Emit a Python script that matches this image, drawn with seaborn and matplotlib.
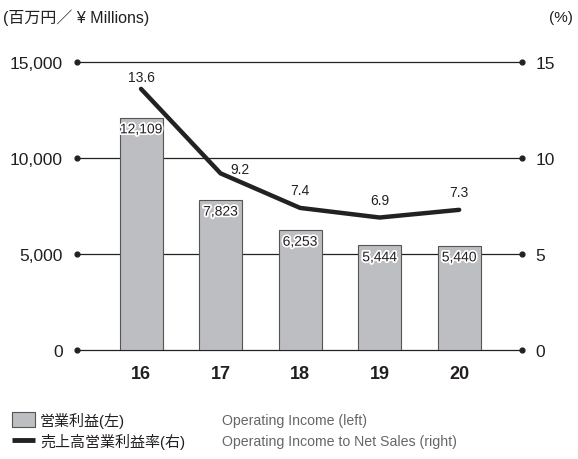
import matplotlib
matplotlib.use("Agg")
import matplotlib.pyplot as plt
import matplotlib.patheffects as pe
from matplotlib.patches import Rectangle
from matplotlib.lines import Line2D
import seaborn as sns
import pandas as pd

years = ["16", "17", "18", "19", "20"]
operating_income = [12109, 7823, 6253, 5444, 5440]
income_labels = ["12,109", "7,823", "6,253", "5,444", "5,440"]
margin = [13.6, 9.2, 7.4, 6.9, 7.3]
margin_labels = ["13.6", "9.2", "7.4", "6.9", "7.3"]
left_ticks = [0, 5000, 10000, 15000]
left_ticklabels = ["0", "5,000", "10,000", "15,000"]
right_ticks = [0, 5, 10, 15]
right_ticklabels = ["0", "5", "10", "15"]

sns.set_theme(style="white")
plt.rcParams["font.family"] = ["Liberation Sans", "Noto Sans CJK JP", "DejaVu Sans"]

TXT = "#231f20"
BAR = "#bdbec2"
df = pd.DataFrame({"year": years, "income": operating_income, "margin": margin})

fig = plt.figure(figsize=(5.78, 4.60), dpi=100)
ax = fig.add_axes([77/578, (460-351)/460, (522-77)/578, (351-63)/460])

XL, XR = -0.805, 4.79
ax.set_xlim(XL, XR)
ax.set_ylim(0, 15000)

# gridlines with end dots
for t in left_ticks:
    ax.plot([XL, XR], [t, t], color="#222222", lw=0.9, zorder=1, clip_on=False)
    ax.scatter([XL, XR], [t, t], s=12, color="#222222", zorder=2, clip_on=False)

sns.barplot(data=df, x="year", y="income", ax=ax, color=BAR, width=0.54,
            edgecolor="#555555", linewidth=0.8, saturation=1, zorder=3)
ax.set_xlim(XL, XR)

for i, (v, lab) in enumerate(zip(operating_income, income_labels)):
    ax.text(i, v - 250, lab, ha="center", va="top", fontsize=10, color=TXT, zorder=6,
            path_effects=[pe.withStroke(linewidth=2.5, foreground="white")])

ax.set_yticks(left_ticks)
ax.set_yticklabels(left_ticklabels, fontsize=12.5, color=TXT)
ax.tick_params(axis="y", length=0, pad=10)
ax.tick_params(axis="x", length=0, pad=11)
ax.set_xticks(range(len(years)))
ax.set_xticklabels(years, fontsize=13, fontweight="bold", color=TXT)
ax.set_xlabel("")
ax.set_ylabel("")
for s in ax.spines.values():
    s.set_visible(False)

ax2 = ax.twinx()
ax2.set_ylim(0, 15)
sns.lineplot(data=df, x="year", y="margin", ax=ax2, color="#222222", lw=3.2, zorder=5, sort=False)
ax2.set_xlim(XL, XR)
ax2.set_yticks(right_ticks)
ax2.set_yticklabels(right_ticklabels, fontsize=12.5, color=TXT)
ax2.tick_params(axis="y", length=0, pad=9.5)
ax2.set_ylabel("")
ax2.set_xlabel("")
for s in ax2.spines.values():
    s.set_visible(False)

offsets = [(0, 0.25), (0.25, -0.15), (0, 0.55), (0, 0.55), (0, 0.55)]
for i, (v, lab) in enumerate(zip(margin, margin_labels)):
    dx, dy = offsets[i]
    ax2.text(i + dx, v + dy, lab, ha="center", va="bottom", fontsize=10, color=TXT, zorder=6)

fig.text(3/578, 1 - 18/460, "(百万円／ ¥ Millions)", fontsize=11.5, color=TXT, va="center", ha="left")
fig.text(573/578, 1 - 18/460, "(%)", fontsize=11, color=TXT, va="center", ha="right")

# legend
fig.patches.append(Rectangle((12/578, 1 - 428/460), 23/578, 15/460, transform=fig.transFigure,
                             facecolor=BAR, edgecolor="#555555", lw=0.8))
fig.lines.append(Line2D([12/578, 35/578], [1 - 441/460, 1 - 441/460], transform=fig.transFigure,
                        color="#222222", lw=3.5, solid_capstyle="butt"))
fig.text(40/578, 1 - 421/460, "営業利益(左)", fontsize=10.8, color=TXT, va="center")
fig.text(40/578, 1 - 442/460, "売上高営業利益率(右)", fontsize=10.8, color=TXT, va="center")
fig.text(222/578, 1 - 421/460, "Operating Income (left)", fontsize=10.2, color="#666666", va="center")
fig.text(222/578, 1 - 442/460, "Operating Income to Net Sales (right)", fontsize=10.2, color="#666666", va="center")

fig.savefig("out.png", dpi=100)
